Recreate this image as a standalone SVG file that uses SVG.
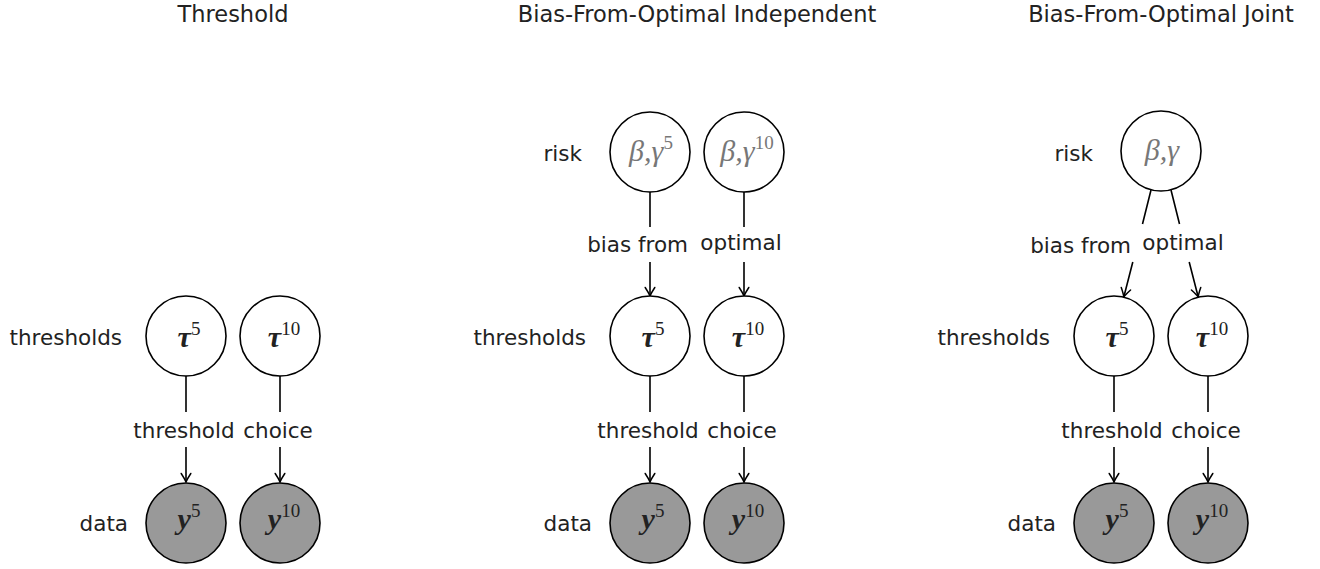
<svg xmlns="http://www.w3.org/2000/svg" width="1320" height="569" viewBox="0 0 1320 569">
<style>
.t{font-family:"DejaVu Sans",sans-serif;font-size:21.5px;fill:#222}
.title{font-family:"DejaVu Sans",sans-serif;font-size:22.5px;fill:#222;text-anchor:middle}
.n{fill:#fff;stroke:#000;stroke-width:1.6}
.d{fill:#999;stroke:#000;stroke-width:1.6}
.m{font-family:"Liberation Serif","DejaVu Serif",serif;font-size:30px;font-style:italic;font-weight:bold;fill:#222;text-anchor:middle}
.g{font-family:"Liberation Serif","DejaVu Serif",serif;font-size:30px;font-style:italic;fill:#777;text-anchor:middle}
.sup{font-style:normal;font-weight:normal;font-size:19px}
.e{fill:none;stroke:#000;stroke-width:1.6;marker-end:url(#arr)}
</style>
<defs>
<marker id="arr" markerUnits="userSpaceOnUse" markerWidth="14" markerHeight="14" viewBox="-10 -7 12 14" refX="0" refY="0" orient="auto">
<path d="M-8.5,-4.8 Q-3,-1.2 0,0 Q-3,1.2 -8.5,4.8" fill="none" stroke="#000" stroke-width="1.5" stroke-linecap="round"/>
</marker>
</defs>

<text class="title" x="233" y="22">Threshold</text>
<text class="title" x="697" y="22">Bias-From-Optimal Independent</text>
<text class="title" x="1161" y="22">Bias-From-Optimal Joint</text>

<g id="connectors">
<path class="e" d="M186,376 V412 M186,447 V482"/>
<path class="e" d="M280,376 V412 M280,447 V482"/>
<path class="e" d="M650,192 V227 M650,262 V296"/>
<path class="e" d="M744,192 V227 M744,262 V296"/>
<path class="e" d="M650,376 V412 M650,447 V482"/>
<path class="e" d="M744,376 V412 M744,447 V482"/>
<path class="e" d="M1151,190 L1142.5,224 M1132.8,262 L1123.8,297"/>
<path class="e" d="M1171,190 L1179.5,224 M1189.2,262 L1198.2,297"/>
<path class="e" d="M1114,376 V412 M1114,447 V482"/>
<path class="e" d="M1208,376 V412 M1208,447 V482"/>
</g>

<g id="edge-labels">
<text class="t" x="184" y="438" text-anchor="middle">threshold</text>
<text class="t" x="278" y="438" text-anchor="middle">choice</text>
<text class="t" x="648" y="438" text-anchor="middle">threshold</text>
<text class="t" x="742" y="438" text-anchor="middle">choice</text>
<text class="t" x="1112" y="438" text-anchor="middle">threshold</text>
<text class="t" x="1206" y="438" text-anchor="middle">choice</text>
<text class="t" x="688" y="252" text-anchor="end">bias from</text>
<text class="t" x="741" y="250" text-anchor="middle">optimal</text>
<text class="t" x="1131" y="253" text-anchor="end">bias from</text>
<text class="t" x="1183" y="250" text-anchor="middle">optimal</text>
</g>

<g id="row-labels">
<text class="t" x="122" y="345" text-anchor="end">thresholds</text>
<text class="t" x="128" y="531" text-anchor="end">data</text>
<text class="t" x="582" y="161" text-anchor="end">risk</text>
<text class="t" x="586" y="345" text-anchor="end">thresholds</text>
<text class="t" x="592" y="531" text-anchor="end">data</text>
<text class="t" x="1093" y="161" text-anchor="end">risk</text>
<text class="t" x="1050" y="345" text-anchor="end">thresholds</text>
<text class="t" x="1056" y="531" text-anchor="end">data</text>
</g>

<g id="p1-tau5"><circle class="n" cx="186" cy="336" r="40"/><text class="m" x="189" y="347">τ<tspan class="sup" dy="-12">5</tspan></text></g>
<g id="p1-tau10"><circle class="n" cx="280" cy="336" r="40"/><text class="m" x="284" y="347">τ<tspan class="sup" dy="-12">10</tspan></text></g>
<g id="p1-y5"><circle class="d" cx="186" cy="523" r="40"/><text class="m" x="189" y="529">y<tspan class="sup" dy="-12">5</tspan></text></g>
<g id="p1-y10"><circle class="d" cx="280" cy="523" r="40"/><text class="m" x="284" y="529">y<tspan class="sup" dy="-12">10</tspan></text></g>

<g id="p2-risk5"><circle class="n" cx="650" cy="152" r="40"/><text class="g" x="651" y="161">β,γ<tspan class="sup" dy="-12">5</tspan></text></g>
<g id="p2-risk10"><circle class="n" cx="744" cy="152" r="40"/><text class="g" x="747" y="161">β,γ<tspan class="sup" dy="-12">10</tspan></text></g>
<g id="p2-tau5"><circle class="n" cx="650" cy="336" r="40"/><text class="m" x="653" y="347">τ<tspan class="sup" dy="-12">5</tspan></text></g>
<g id="p2-tau10"><circle class="n" cx="744" cy="336" r="40"/><text class="m" x="748" y="347">τ<tspan class="sup" dy="-12">10</tspan></text></g>
<g id="p2-y5"><circle class="d" cx="650" cy="523" r="40"/><text class="m" x="653" y="529">y<tspan class="sup" dy="-12">5</tspan></text></g>
<g id="p2-y10"><circle class="d" cx="744" cy="523" r="40"/><text class="m" x="748" y="529">y<tspan class="sup" dy="-12">10</tspan></text></g>

<g id="p3-risk"><circle class="n" cx="1161" cy="151" r="40"/><text class="g" x="1162" y="160">β,γ</text></g>
<g id="p3-tau5"><circle class="n" cx="1114" cy="336" r="40"/><text class="m" x="1117" y="347">τ<tspan class="sup" dy="-12">5</tspan></text></g>
<g id="p3-tau10"><circle class="n" cx="1208" cy="336" r="40"/><text class="m" x="1212" y="347">τ<tspan class="sup" dy="-12">10</tspan></text></g>
<g id="p3-y5"><circle class="d" cx="1114" cy="523" r="40"/><text class="m" x="1117" y="529">y<tspan class="sup" dy="-12">5</tspan></text></g>
<g id="p3-y10"><circle class="d" cx="1208" cy="523" r="40"/><text class="m" x="1212" y="529">y<tspan class="sup" dy="-12">10</tspan></text></g>
</svg>
